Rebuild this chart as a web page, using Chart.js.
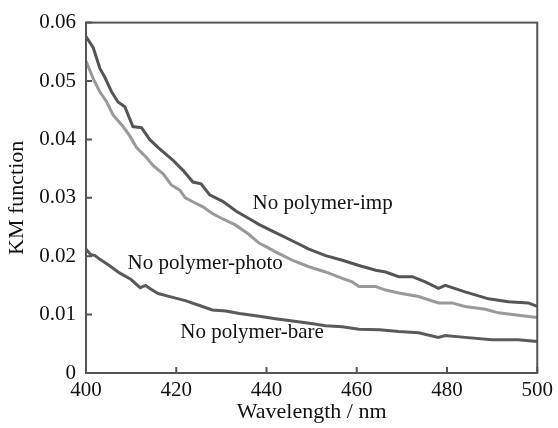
<!DOCTYPE html>
<html>
<head>
<meta charset="utf-8">
<script src="https://cdn.jsdelivr.net/npm/chart.js@4/dist/chart.umd.min.js"></script>
<style>
  html, body { margin: 0; padding: 0; background: #fff; }
  #wrap { width: 558px; height: 428px; }
</style>
</head>
<body>
<div id="wrap"><canvas id="kmChart" width="558" height="428"></canvas></div>
<script>
// wavelength (nm) and KM values
const impX = [400, 401.6, 403.1, 404.2, 405.7, 407.1, 408.6, 410.4, 412.3, 414.1, 416, 419.3, 421.5, 423.7, 425.5, 427.4, 430.3, 433.3, 436, 438.4, 442.1, 445.8, 449.4, 453.1, 456.8, 460.5, 464.2, 466.4, 469.3, 472.3, 475.2, 478.1, 479.6, 484, 489.2, 493.6, 498, 500];
const impY = [0.0576, 0.0557, 0.0521, 0.0506, 0.0481, 0.0464, 0.0456, 0.0422, 0.042, 0.04, 0.0386, 0.0364, 0.0347, 0.0327, 0.0324, 0.0305, 0.0294, 0.0277, 0.0265, 0.0254, 0.024, 0.0226, 0.0212, 0.0201, 0.0193, 0.0184, 0.0176, 0.0173, 0.0165, 0.0165, 0.0156, 0.0145, 0.015, 0.0139, 0.0127, 0.0122, 0.012, 0.0114];

const photoX = [400, 401.6, 403.1, 404.6, 406, 408.2, 409.7, 411.2, 413.4, 414.9, 417.1, 418.9, 420.8, 422, 424, 426, 428, 430, 433, 436, 438.4, 440, 442.1, 445.8, 449.4, 453.1, 456.8, 459, 460.5, 464.2, 466.4, 469.3, 473.7, 478.1, 481.1, 484, 488.5, 491.4, 495.8, 500];
const photoY = [0.0534, 0.0504, 0.0481, 0.0464, 0.0442, 0.0422, 0.0406, 0.0386, 0.0369, 0.0355, 0.0341, 0.0322, 0.0313, 0.03, 0.0292, 0.0284, 0.0273, 0.0265, 0.0254, 0.0238, 0.0222, 0.0216, 0.0207, 0.0193, 0.0182, 0.0173, 0.0162, 0.0156, 0.0148, 0.0148, 0.0142, 0.0137, 0.0131, 0.012, 0.012, 0.0114, 0.0109, 0.0103, 0.0099, 0.0095];

const bareX = [400, 401, 402, 403, 405, 407.5, 410, 412, 413.2, 414.5, 416, 419, 422, 425, 428, 431, 434, 438.4, 442, 445.8, 449.5, 453.1, 456.8, 460.5, 465, 469.3, 473.7, 478.1, 479.6, 484, 489.9, 495.8, 500];
const bareY = [0.0212, 0.0203, 0.0201, 0.0195, 0.0185, 0.0171, 0.016, 0.0146, 0.015, 0.0143, 0.0136, 0.013, 0.0124, 0.0116, 0.0108, 0.0106, 0.0102, 0.0097, 0.0093, 0.0089, 0.0085, 0.0081, 0.0079, 0.0075, 0.0074, 0.0071, 0.0069, 0.0061, 0.0064, 0.0061, 0.0057, 0.0057, 0.0054];

const xTicks = [400, 420, 440, 460, 480, 500];
const yTicks = [0, 0.01, 0.02, 0.03, 0.04, 0.05, 0.06];

// curve labels: [text, wavelength, KM]
const curveLabels = [
    ['No polymer-imp', 436.9, 0.0291],
    ['No polymer-photo', 409.2, 0.0187],
    ['No polymer-bare', 420.9, 0.0069]
];

const serif = "'Liberation Serif', 'Times New Roman', serif";

function toPoints(xs, ys) {
    return xs.map((x, i) => ({ x: x, y: ys[i] }));
}

// frame, inward ticks and curve labels
const decorations = {
    id: 'decorations',
    afterDatasetsDraw(chart) {
        const ctx = chart.ctx;
        const area = chart.chartArea;
        const xs = chart.scales.x;
        const ys = chart.scales.y;
        ctx.save();
        ctx.strokeStyle = '#555';
        ctx.lineWidth = 2;
        ctx.strokeRect(area.left, area.top, area.right - area.left, area.bottom - area.top);
        ctx.beginPath();
        xTicks.forEach(v => {
            const px = xs.getPixelForValue(v);
            ctx.moveTo(px, area.bottom);
            ctx.lineTo(px, area.bottom - 6);
        });
        yTicks.forEach(v => {
            const py = ys.getPixelForValue(v);
            ctx.moveTo(area.left, py);
            ctx.lineTo(area.left + 6, py);
        });
        ctx.stroke();

        ctx.fillStyle = '#111';
        ctx.font = '21px ' + serif;
        ctx.textBaseline = 'middle';
        ctx.textAlign = 'left';
        curveLabels.forEach(l => {
            ctx.fillText(l[0], xs.getPixelForValue(l[1]), ys.getPixelForValue(l[2]));
        });
        ctx.restore();
    }
};

const lineStyle = {
    borderWidth: 3,
    pointRadius: 0,
    fill: false,
    tension: 0
};

const kmChart = new Chart(document.getElementById('kmChart').getContext('2d'), {
    type: 'line',
    data: {
        datasets: [
            Object.assign({ label: 'No polymer-imp', data: toPoints(impX, impY), borderColor: '#555555' }, lineStyle),
            Object.assign({ label: 'No polymer-photo', data: toPoints(photoX, photoY), borderColor: '#9a9a9a' }, lineStyle),
            Object.assign({ label: 'No polymer-bare', data: toPoints(bareX, bareY), borderColor: '#5a5a5a' }, lineStyle)
        ]
    },
    options: {
        responsive: false,
        animation: false,
        layout: { padding: { top: 16, right: 19, left: 0, bottom: 0 } },
        plugins: {
            legend: { display: false },
            tooltip: { enabled: false }
        },
        scales: {
            x: {
                type: 'linear',
                min: 400,
                max: 500,
                afterBuildTicks: s => { s.ticks = xTicks.map(v => ({ value: v })); },
                afterFit: s => { s.height = 55; },
                grid: { display: false, drawTicks: false },
                border: { display: false },
                ticks: {
                    color: '#111',
                    padding: 5,
                    font: { family: serif, size: 21 }
                },
                title: {
                    display: true,
                    text: 'Wavelength / nm',
                    color: '#111',
                    padding: { top: 0, bottom: 3 },
                    font: { family: serif, size: 22 }
                }
            },
            y: {
                type: 'linear',
                min: 0,
                max: 0.06,
                afterBuildTicks: s => { s.ticks = yTicks.map(v => ({ value: v })); },
                afterFit: s => { s.width = 86; },
                grid: { display: false, drawTicks: false },
                border: { display: false },
                ticks: {
                    color: '#111',
                    padding: 10,
                    font: { family: serif, size: 21 },
                    callback: v => (v === 0 ? '0' : v.toFixed(2))
                },
                title: {
                    display: true,
                    text: 'KM function',
                    color: '#111',
                    padding: { top: 4, bottom: 0 },
                    font: { family: serif, size: 22 }
                }
            }
        }
    },
    plugins: [decorations]
});
</script>
</body>
</html>
